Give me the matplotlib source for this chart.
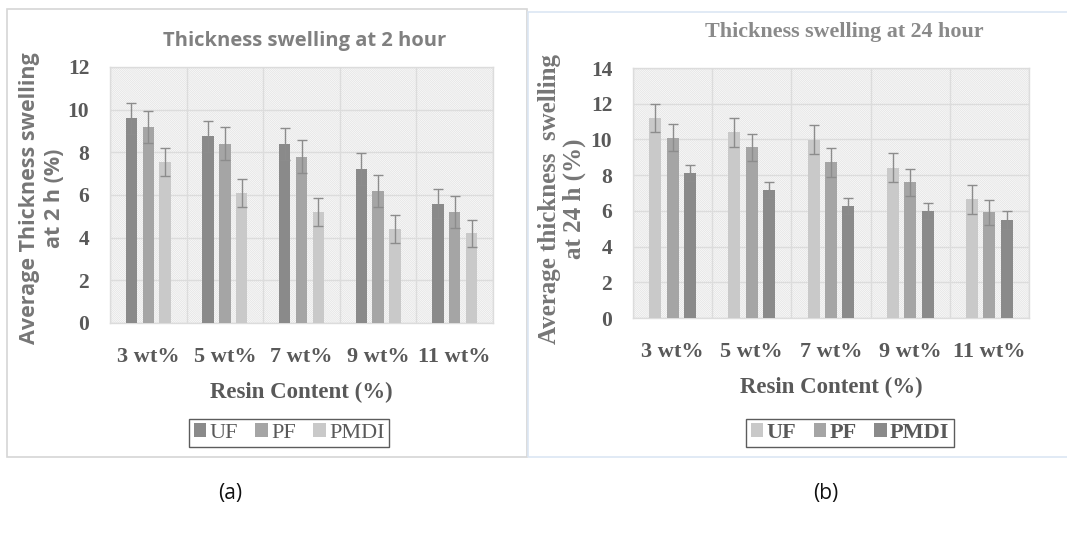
import matplotlib
matplotlib.use("Agg")
import matplotlib.pyplot as plt
import numpy as np
from matplotlib.patches import Rectangle

categories = ["3 wt%", "5 wt%", "7 wt%", "9 wt%", "11 wt%"]
series = ["UF", "PF", "PMDI"]

# thickness swelling at 2 hour
ts2_uf = [9.6, 8.75, 8.4, 7.2, 5.6]
ts2_pf = [9.2, 8.4, 7.8, 6.2, 5.2]
ts2_pmdi = [7.55, 6.1, 5.2, 4.4, 4.2]
ts2_uf_err = [0.72, 0.73, 0.75, 0.75, 0.7]
ts2_pf_err = [0.75, 0.77, 0.76, 0.76, 0.73]
ts2_pmdi_err = [0.65, 0.66, 0.64, 0.66, 0.62]

# thickness swelling at 24 hour
ts24_uf = [11.2, 10.4, 9.98, 8.42, 6.64]
ts24_pf = [10.1, 9.55, 8.71, 7.61, 5.91]
ts24_pmdi = [8.12, 7.17, 6.25, 5.97, 5.49]
ts24_uf_err = [0.78, 0.8, 0.8, 0.8, 0.8]
ts24_pf_err = [0.76, 0.73, 0.79, 0.75, 0.71]
ts24_pmdi_err = [0.46, 0.46, 0.45, 0.45, 0.5]

W, H = 1067, 541
SERIF = "Liberation Serif"
SANS = "Open Sans"
TICK_C = "#595959"
LAB_C = "#767676"

plt.rcParams["hatch.linewidth"] = 0.5


def px_axes(fig, x0, y0, x1, y1):
    return fig.add_axes([x0 / W, 1 - y1 / H, (x1 - x0) / W, (y1 - y0) / H])


def draw_panel(ax, vals, errs, colors, ymax, ystep, legend_bold, legend_box):
    x = np.arange(len(categories))
    # hatched plot-area background
    ax.add_patch(Rectangle((0, 0), 1, 1, transform=ax.transAxes, facecolor="#fbfbfb",
                           edgecolor="#e2e2e2", hatch="\\" * 16, linewidth=0, zorder=0))
    offsets = [-0.22, 0, 0.22]
    for i, name in enumerate(series):
        ax.bar(x + offsets[i], vals[i], width=0.15, color=colors[i], label=name, zorder=3,
               yerr=errs[i], error_kw=dict(ecolor="#8c8c8c", elinewidth=1.0, capsize=3.5, capthick=1.0))
    ax.set_xlim(-0.5, len(categories) - 0.5)
    ax.set_ylim(0, ymax)
    ax.set_yticks(np.arange(0, ymax + 0.1, ystep))
    ax.set_xticks(x)
    ax.set_xticks(np.arange(-0.5, len(categories), 1.0), minor=True)
    ax.set_xticklabels(categories)
    ax.grid(True, which="major", axis="y", color="#dcdcdc", linewidth=1.0, zorder=1)
    ax.grid(True, which="minor", axis="x", color="#dcdcdc", linewidth=1.0, zorder=1)
    ax.set_axisbelow(True)
    for s in ax.spines.values():
        s.set_color("#dcdcdc")
        s.set_linewidth(1.0)
    ax.tick_params(axis="both", which="both", length=0)
    ax.tick_params(axis="y", pad=15)
    ax.tick_params(axis="x", pad=17)
    for t in ax.get_yticklabels():
        t.set_fontfamily(SERIF)
        t.set_fontweight("bold")
        t.set_fontsize(15.5)
        t.set_color(TICK_C)
    for t in ax.get_xticklabels():
        t.set_fontfamily(SERIF)
        t.set_fontweight("bold")
        t.set_fontsize(16)
        t.set_color(TICK_C)
    ax.set_xlabel("Resin Content (%)", fontfamily=SERIF, fontweight="bold", fontsize=16.5,
                  color=TICK_C, labelpad=11)
    leg = ax.legend(loc="center", bbox_to_anchor=legend_box, ncol=3, frameon=True, fancybox=False,
                    prop=dict(family=SERIF, size=16, weight="bold" if legend_bold else "normal"),
                    handlelength=0.55, handleheight=0.55, handletextpad=0.15, columnspacing=0.8,
                    borderpad=0.2, bbox_transform=ax.figure.transFigure)
    leg.get_frame().set_edgecolor("#333333")
    leg.get_frame().set_linewidth(1.0)
    for t in leg.get_texts():
        t.set_color(TICK_C)


fig = plt.figure(figsize=(W / 100, H / 100), dpi=100)

# panel frames
fig.add_artist(Rectangle((7 / W, 1 - 457 / H), (527 - 7) / W, (457 - 9) / H, transform=fig.transFigure,
                         facecolor="none", edgecolor="#d6d6d6", linewidth=1.2))
fig.add_artist(Rectangle((528 / W, 1 - 457 / H), (1070 - 528) / W, (457 - 12) / H, transform=fig.transFigure,
                         facecolor="none", edgecolor="#dbe6f3", linewidth=1.2))

ax1 = px_axes(fig, 110, 67, 493, 323)
draw_panel(ax1, [ts2_uf, ts2_pf, ts2_pmdi], [ts2_uf_err, ts2_pf_err, ts2_pmdi_err],
           ["#8a8a8a", "#a5a5a5", "#c9c9c9"], 12, 2, False, (289 / W, 1 - 433 / H))
fig.text(305 / W, 1 - 41 / H, "Thickness swelling at 2 hour", fontfamily=SANS, fontweight="bold",
         fontsize=14.5, color="#808080", ha="center", va="center")
fig.text(42 / W, 1 - 198 / H, "Average Thickness swelling\nat 2 h (%)", fontfamily=SANS,
         fontweight="bold", fontsize=15.5, color=LAB_C, rotation=90, ha="center", va="center",
         multialignment="center", linespacing=1.2)

ax2 = px_axes(fig, 633, 68, 1029, 318)
draw_panel(ax2, [ts24_uf, ts24_pf, ts24_pmdi], [ts24_uf_err, ts24_pf_err, ts24_pmdi_err],
           ["#c9c9c9", "#a5a5a5", "#8a8a8a"], 14, 2, True, (850 / W, 1 - 433 / H))
fig.text(844 / W, 1 - 32 / H, "Thickness swelling at 24 hour", fontfamily=SERIF, fontweight="bold",
         fontsize=15.8, color="#8a8a8a", ha="center", va="center")
fig.text(562 / W, 1 - 199 / H, "Average thickness  swelling\nat 24 h (%)", fontfamily=SERIF,
         fontweight="bold", fontsize=18, color=LAB_C, rotation=90, ha="center", va="center",
         multialignment="center", linespacing=1.1)

fig.text(230 / W, 1 - 493 / H, "(a)", fontfamily=SANS, fontsize=15, ha="center", va="center", color="#111111")
fig.text(826 / W, 1 - 493 / H, "(b)", fontfamily=SANS, fontsize=15, ha="center", va="center", color="#111111")

fig.savefig("out.png", dpi=100)
